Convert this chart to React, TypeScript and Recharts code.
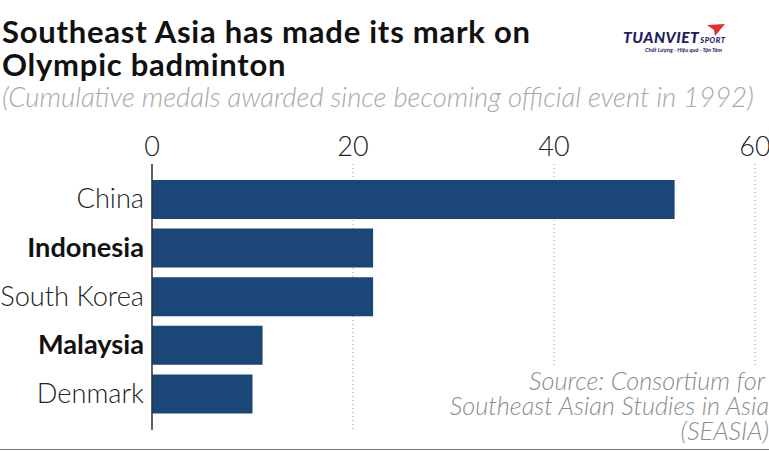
import React from "react";
import { BarChart, Bar, XAxis, YAxis, CartesianGrid } from "recharts";

const countries = ["China", "Indonesia", "South Korea", "Malaysia", "Denmark"];
const medals = [52, 22, 22, 11, 10];
const boldCountries = ["Indonesia", "Malaysia"];
const xTicks = [0, 20, 40, 60];

const rows = countries.map((country, i) => ({ country, medals: medals[i] }));

const FONT = "Lato, sans-serif";

function CountryTick({ x, y, payload }: any) {
  const bold = boldCountries.includes(payload.value);
  return (
    <text
      x={x + 6}
      y={y}
      dy={9}
      textAnchor="end"
      fontFamily={FONT}
      fontSize={27.2}
      fontWeight={bold ? 700 : 300}
      fill={bold ? "#111" : "#222"}
    >
      {payload.value}
    </text>
  );
}

function Logo() {
  return (
    <div style={{ position: "absolute", left: 623, top: 22, width: 110, height: 32 }}>
      <svg width={20} height={14} style={{ position: "absolute", left: 84, top: 2 }}>
        <polygon points="0,1 18,0 8,12 7,6" fill="#e0312c" />
      </svg>
      <div style={{ position: "absolute", left: 0, top: 6, lineHeight: "18px", fontFamily: FONT, fontStyle: "italic", fontWeight: 900, fontSize: 15.5, letterSpacing: 0.5, color: "#1c2260", whiteSpace: "nowrap" }}>
        TUANVIET<span style={{ fontSize: 7.5, marginLeft: 1 }}>SPORT</span>
      </div>
      <div style={{ position: "absolute", left: 22, top: 24, lineHeight: "7px", fontFamily: FONT, fontStyle: "italic", fontWeight: 700, fontSize: 5.6, color: "#1c2260", whiteSpace: "nowrap" }}>
        Chất Lượng - Hiệu quả - Tận Tâm
      </div>
    </div>
  );
}

export default function App() {
  return (
    <div style={{ position: "absolute", left: 0, top: 0, width: 769, height: 451, background: "#fff", overflow: "hidden" }}>
      <BarChart
        width={769}
        height={451}
        data={rows}
        layout="vertical"
        margin={{ top: 0, right: 14, bottom: 21, left: 0 }}
      >
        <CartesianGrid horizontal={false} stroke="#999" strokeDasharray="1 3" />
        <XAxis
          type="number"
          orientation="top"
          domain={[0, 60]}
          ticks={xTicks}
          height={164}
          axisLine={false}
          tickLine={false}
          tickMargin={2}
          interval={0}
          tick={{ fill: "#222", fontSize: 27, fontFamily: FONT, fontWeight: 300 }}
        />
        <YAxis
          type="category"
          dataKey="country"
          width={152}
          padding={{ top: 11, bottom: 12 }}
          axisLine={{ stroke: "#333", strokeWidth: 1.5 }}
          tickLine={false}
          tickMargin={8}
          interval={0}
          tick={<CountryTick />}
        />
        <Bar dataKey="medals" fill="#1b4678" barSize={39} isAnimationActive={false} />
      </BarChart>

      <div style={{ position: "absolute", left: 2, top: 15, fontFamily: FONT, fontWeight: 700, fontSize: 31, letterSpacing: 0.75, lineHeight: "33px", color: "#111", whiteSpace: "nowrap" }}>
        Southeast Asia has made its mark on
        <br />
        Olympic badminton
      </div>
      <div style={{ position: "absolute", left: 2, top: 80, fontFamily: FONT, fontStyle: "italic", fontWeight: 300, fontSize: 27.5, color: "#a8a8a8", whiteSpace: "nowrap" }}>
        (Cumulative medals awarded since becoming official event in 1992)
      </div>
      <Logo />
      <div style={{ position: "absolute", right: 0, top: 368, width: 322, background: "#fff", textAlign: "right", fontFamily: FONT, fontStyle: "italic", fontWeight: 300, fontSize: 25.3, lineHeight: "25px", color: "#8c8c8c", whiteSpace: "nowrap" }}>
        <span style={{ paddingRight: 4 }}>Source: Consortium for</span>
        <br />
        Southeast Asian Studies in Asia
        <br />
        (SEASIA)
      </div>
      <div style={{ position: "absolute", left: 0, right: 0, top: 449, height: 1, background: "#777" }} />
    </div>
  );
}
